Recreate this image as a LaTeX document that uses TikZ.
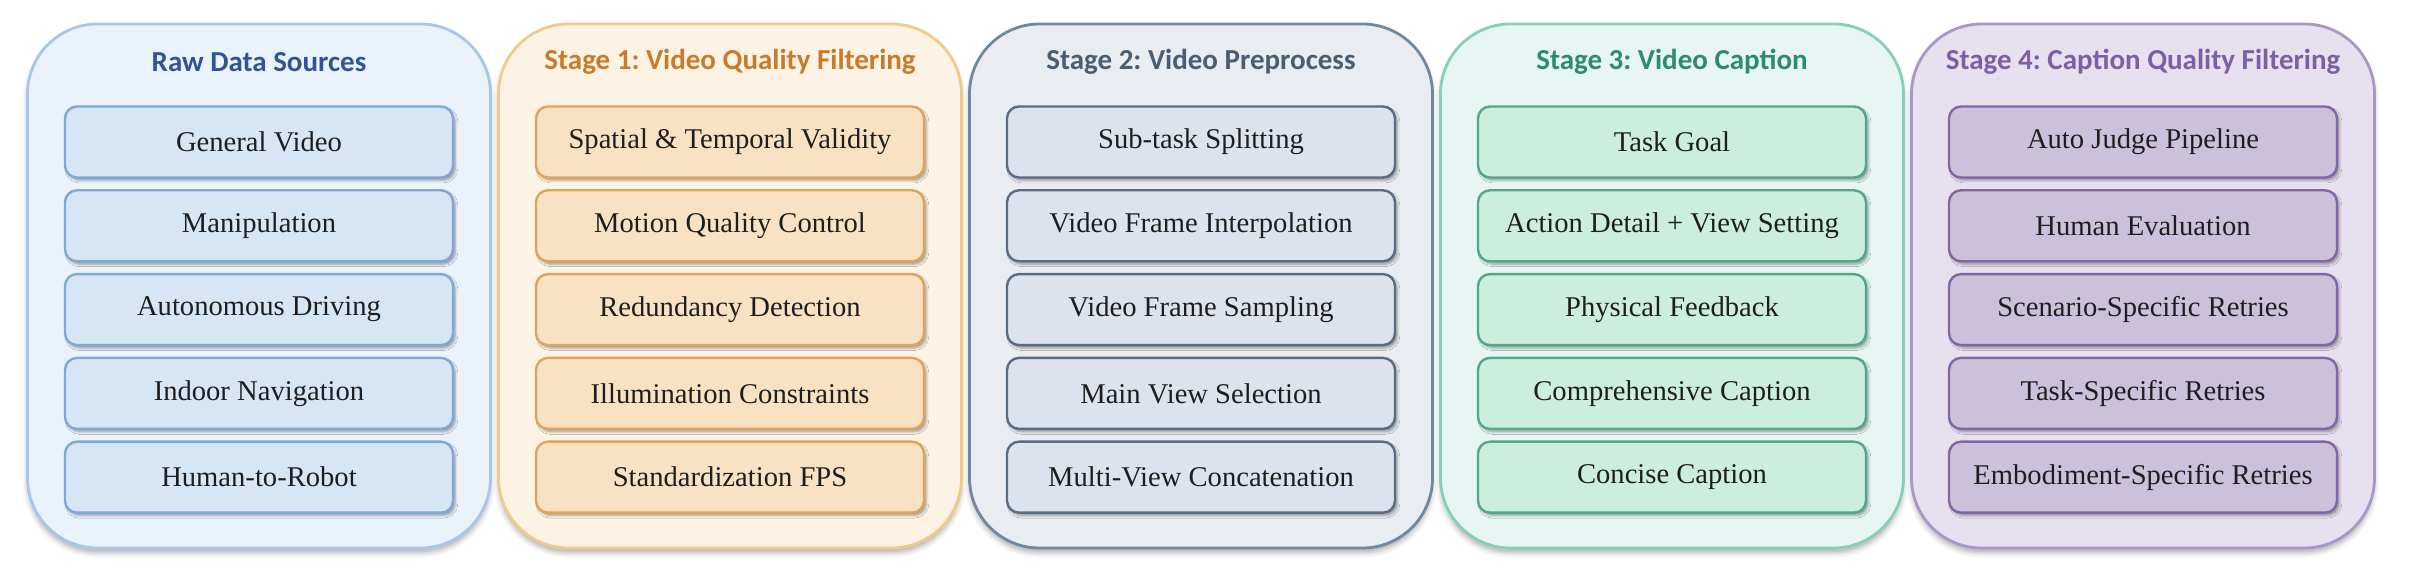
\documentclass[tikz,border=0pt]{standalone}
\usepackage{fontspec}
\setmainfont{Liberation Serif}
\newfontfamily\headfont{Carlito}
\usetikzlibrary{positioning,shadows.blur}
\frenchspacing

% panel colours
\definecolor{rawfill}{HTML}{EAF2FC}\definecolor{rawline}{HTML}{A6C6EA}
\definecolor{rawbox}{HTML}{D7E6F5}\definecolor{rawboxline}{HTML}{80A7D5}
\definecolor{rawhead}{HTML}{2F5597}
\definecolor{onefill}{HTML}{FCF3E5}\definecolor{oneline}{HTML}{F0CA8A}
\definecolor{onebox}{HTML}{F8E2C3}\definecolor{oneboxline}{HTML}{E0A35A}
\definecolor{onehead}{HTML}{C97B2B}
\definecolor{twofill}{HTML}{E9ECF0}\definecolor{twoline}{HTML}{7088A2}
\definecolor{twobox}{HTML}{DDE3ED}\definecolor{twoboxline}{HTML}{5A6C82}
\definecolor{twohead}{HTML}{4A5D73}
\definecolor{threefill}{HTML}{E7F6F2}\definecolor{threeline}{HTML}{88CFBA}
\definecolor{threebox}{HTML}{CBEEDF}\definecolor{threeboxline}{HTML}{50AA89}
\definecolor{threehead}{HTML}{2D8B6F}
\definecolor{fourfill}{HTML}{E7E0EF}\definecolor{fourline}{HTML}{A898C9}
\definecolor{fourbox}{HTML}{CCC1DB}\definecolor{fourboxline}{HTML}{8066A4}
\definecolor{fourhead}{HTML}{7C5FA4}
\definecolor{itemtext}{HTML}{1E1E1E}

\tikzset{
  panel/.style={rounded corners=35pt, line width=1.4pt, minimum width=231.5pt,
    minimum height=262pt,
    blur shadow={shadow xshift=0pt, shadow yshift=-2.5pt, shadow blur radius=2.5pt, shadow opacity=30}},
  headline/.style={font=\headfont\bfseries\fontsize{14.5}{17}\selectfont},
  item/.style={rounded corners=6pt, line width=1.2pt, minimum width=194pt,
    minimum height=35.5pt, text=itemtext, font=\fontsize{14.3}{17}\selectfont,
    blur shadow={shadow xshift=1.2pt, shadow yshift=-1.5pt, shadow blur radius=1.2pt, shadow opacity=35}},
  rawitem/.style={item, fill=rawbox, draw=rawboxline},
  oneitem/.style={item, fill=onebox, draw=oneboxline},
  twoitem/.style={item, fill=twobox, draw=twoboxline},
  threeitem/.style={item, fill=threebox, draw=threeboxline},
  fouritem/.style={item, fill=fourbox, draw=fourboxline},
}

\begin{document}
\begin{tikzpicture}[x=0.5pt, y=0.5pt, node distance=5.2pt]
  \useasboundingbox (0,0) rectangle (2410,578);

  %raw data sources
  \node[panel, fill=rawfill, draw=rawline] (p0) at (259,292) {};
  \node[headline, text=rawhead] (h0) at (259,516) {Raw Data Sources};
  \node[rawitem] (r1) at (259,436) {General Video};
  \node[rawitem, below=of r1] (r2) {Manipulation};
  \node[rawitem, below=of r2] (r3) {Autonomous Driving};
  \node[rawitem, below=of r3] (r4) {Indoor Navigation};
  \node[rawitem, below=of r4] (r5) {Human-to-Robot};

  %stage 1
  \node[panel, fill=onefill, draw=oneline] (p1) at (730,292) {};
  \node[headline, text=onehead] (h1) at (730,516) {Stage 1: Video Quality Filtering};
  \node[oneitem] (a1) at (730,436) {Spatial \& Temporal Validity};
  \node[oneitem, below=of a1] (a2) {Motion Quality Control};
  \node[oneitem, below=of a2] (a3) {Redundancy Detection};
  \node[oneitem, below=of a3] (a4) {Illumination Constraints};
  \node[oneitem, below=of a4] (a5) {Standardization FPS};

  %stage 2
  \node[panel, fill=twofill, draw=twoline] (p2) at (1201,292) {};
  \node[headline, text=twohead] (h2) at (1201,516) {Stage 2: Video Preprocess};
  \node[twoitem] (b1) at (1201,436) {Sub-task Splitting};
  \node[twoitem, below=of b1] (b2) {Video Frame Interpolation};
  \node[twoitem, below=of b2] (b3) {Video Frame Sampling};
  \node[twoitem, below=of b3] (b4) {Main View Selection};
  \node[twoitem, below=of b4] (b5) {Multi-View Concatenation};

  %stage 3
  \node[panel, fill=threefill, draw=threeline] (p3) at (1672,292) {};
  \node[headline, text=threehead] (h3) at (1672,516) {Stage 3: Video Caption};
  \node[threeitem] (c1) at (1672,436) {Task Goal};
  \node[threeitem, below=of c1] (c2) {Action Detail + View Setting};
  \node[threeitem, below=of c2] (c3) {Physical Feedback};
  \node[threeitem, below=of c3] (c4) {Comprehensive Caption};
  \node[threeitem, below=of c4] (c5) {Concise Caption};

  %stage 4
  \node[panel, fill=fourfill, draw=fourline] (p4) at (2143,292) {};
  \node[headline, text=fourhead] (h4) at (2143,516) {Stage 4: Caption Quality Filtering};
  \node[fouritem] (d1) at (2143,436) {Auto Judge Pipeline};
  \node[fouritem, below=of d1] (d2) {Human Evaluation};
  \node[fouritem, below=of d2] (d3) {Scenario-Specific Retries};
  \node[fouritem, below=of d3] (d4) {Task-Specific Retries};
  \node[fouritem, below=of d4] (d5) {Embodiment-Specific Retries};
\end{tikzpicture}
\end{document}
